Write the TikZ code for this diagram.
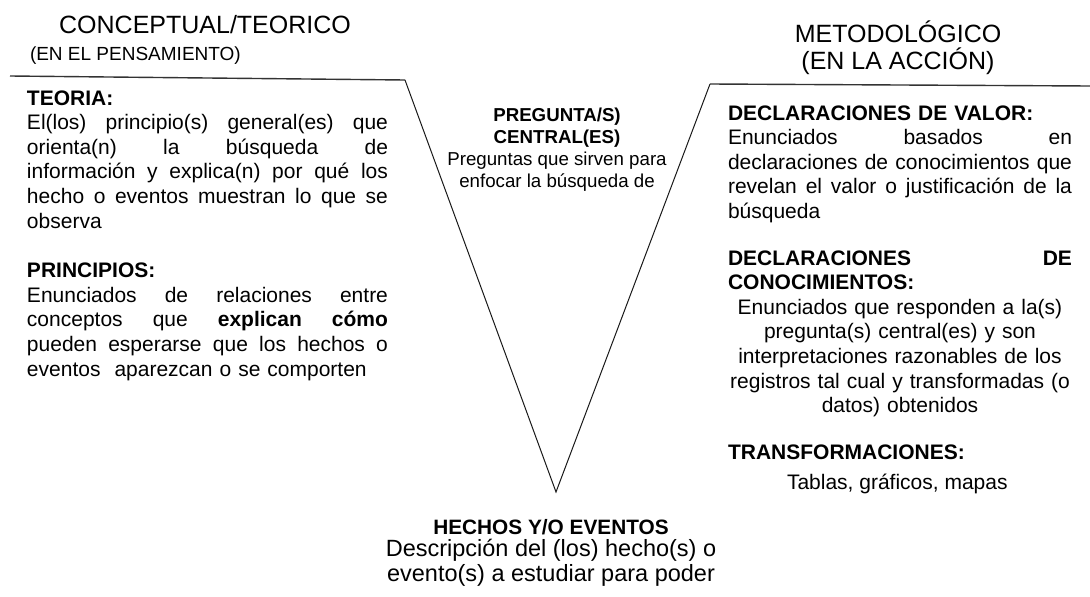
\documentclass[tikz,border=0pt]{standalone}
\usepackage{fontspec}
\setmainfont{Liberation Sans}
\begin{document}
\begin{tikzpicture}[x=1pt,y=-1pt,
  txt/.style={inner sep=0pt, outer sep=0pt},
  body/.style={txt, font=\fontsize{21}{24.6}\selectfont, align=left, anchor=north west},
  vline/.style={draw=black!90, line width=1pt, line join=miter},
  hline/.style={draw=black!80, line width=1.4pt}
]
\useasboundingbox (0,0) rectangle (1090,597);

% header texts
\node[txt, font=\fontsize{25}{28}\selectfont, anchor=base] (concept) at (205,34) {CONCEPTUAL/TEORICO};
\node[txt, font=\fontsize{19}{22}\selectfont, anchor=base west] (pensam) at (30,60) {(EN EL PENSAMIENTO)};
\node[txt, font=\fontsize{25}{28}\selectfont, anchor=base] (metodo) at (898,42) {METODOLÓGICO};
\node[txt, font=\fontsize{25}{28}\selectfont, anchor=base] (accion) at (898,69) {(EN LA ACCIÓN)};

% V outline
\coordinate (lstart) at (10,76);
\coordinate (ltop) at (405,80);
\coordinate (apex) at (556,492);
\coordinate (rtop) at (710,84);
\coordinate (rend) at (1090,86);
\draw[hline] (lstart) -- (ltop);
\draw[hline] (rtop) -- (rend);
\draw[vline] (ltop) -- (apex) -- (rtop);

% left column
\node[body, text width=361pt] (teoria) at (27,90.5) {%
\textbf{TEORIA:}\\
\makebox[361pt][l]{El(los)\hfill principio(s)\hfill general(es)\hfill que}\\
\makebox[361pt][l]{orienta(n)\hfill la\hfill búsqueda\hfill de}\\
\makebox[361pt][l]{información\hfill y\hfill explica(n)\hfill por\hfill qué\hfill los}\\
\makebox[361pt][l]{hecho\hfill o\hfill eventos\hfill muestran\hfill lo\hfill que\hfill se}\\
observa\\[25pt]
\textbf{PRINCIPIOS:}\\
\makebox[361pt][l]{Enunciados\hfill de\hfill relaciones\hfill entre}\\
\makebox[361pt][l]{conceptos\hfill que\hfill \textbf{explican}\hfill \textbf{cómo}}\\
\makebox[361pt][l]{pueden\hfill esperarse\hfill que\hfill los\hfill hechos\hfill o}\\
eventos\ \ aparezcan o se comporten};

% right column
\node[body, text width=344pt] (valor) at (728,105.5) {%
\textbf{DECLARACIONES DE VALOR:}\\
\makebox[344pt][l]{Enunciados\hfill basados\hfill en}\\
\makebox[344pt][l]{declaraciones\hfill de\hfill conocimientos\hfill que}\\
\makebox[344pt][l]{revelan\hfill el\hfill valor\hfill o\hfill justificación\hfill de\hfill la}\\
búsqueda\\[22pt]
\makebox[344pt][l]{\textbf{DECLARACIONES}\hfill\textbf{DE}}\\
\textbf{CONOCIMIENTOS:}\\
\makebox[344pt]{Enunciados que responden a la(s)}\\
\makebox[344pt]{pregunta(s) central(es) y son}\\
\makebox[344pt]{interpretaciones razonables de los}\\
\makebox[344pt]{registros tal cual y transformadas (o}\\
\makebox[344pt]{datos) obtenidos}\\[22pt]
\textbf{TRANSFORMACIONES:}};
\node[txt, font=\fontsize{21}{24.6}\selectfont, anchor=base west] (tablas) at (787,489) {Tablas, gráficos, mapas};

% centre
\node[txt, font=\fontsize{18.7}{22}\selectfont, align=center, anchor=north] (pregunta) at (557,108) {%
\textbf{PREGUNTA/S)}\\
\textbf{CENTRAL(ES)}\\
Preguntas que sirven para\\
enfocar la búsqueda de};

% bottom
\node[txt, font=\fontsize{20.8}{24}\selectfont\bfseries, anchor=base] (hechos) at (551,534.5) {HECHOS Y/O EVENTOS};
\node[txt, font=\fontsize{23.5}{25.5}\selectfont, align=center, anchor=north] (descr) at (551,539) {%
Descripción del (los) hecho(s) o\\
evento(s) a estudiar para poder};
\end{tikzpicture}
\end{document}
